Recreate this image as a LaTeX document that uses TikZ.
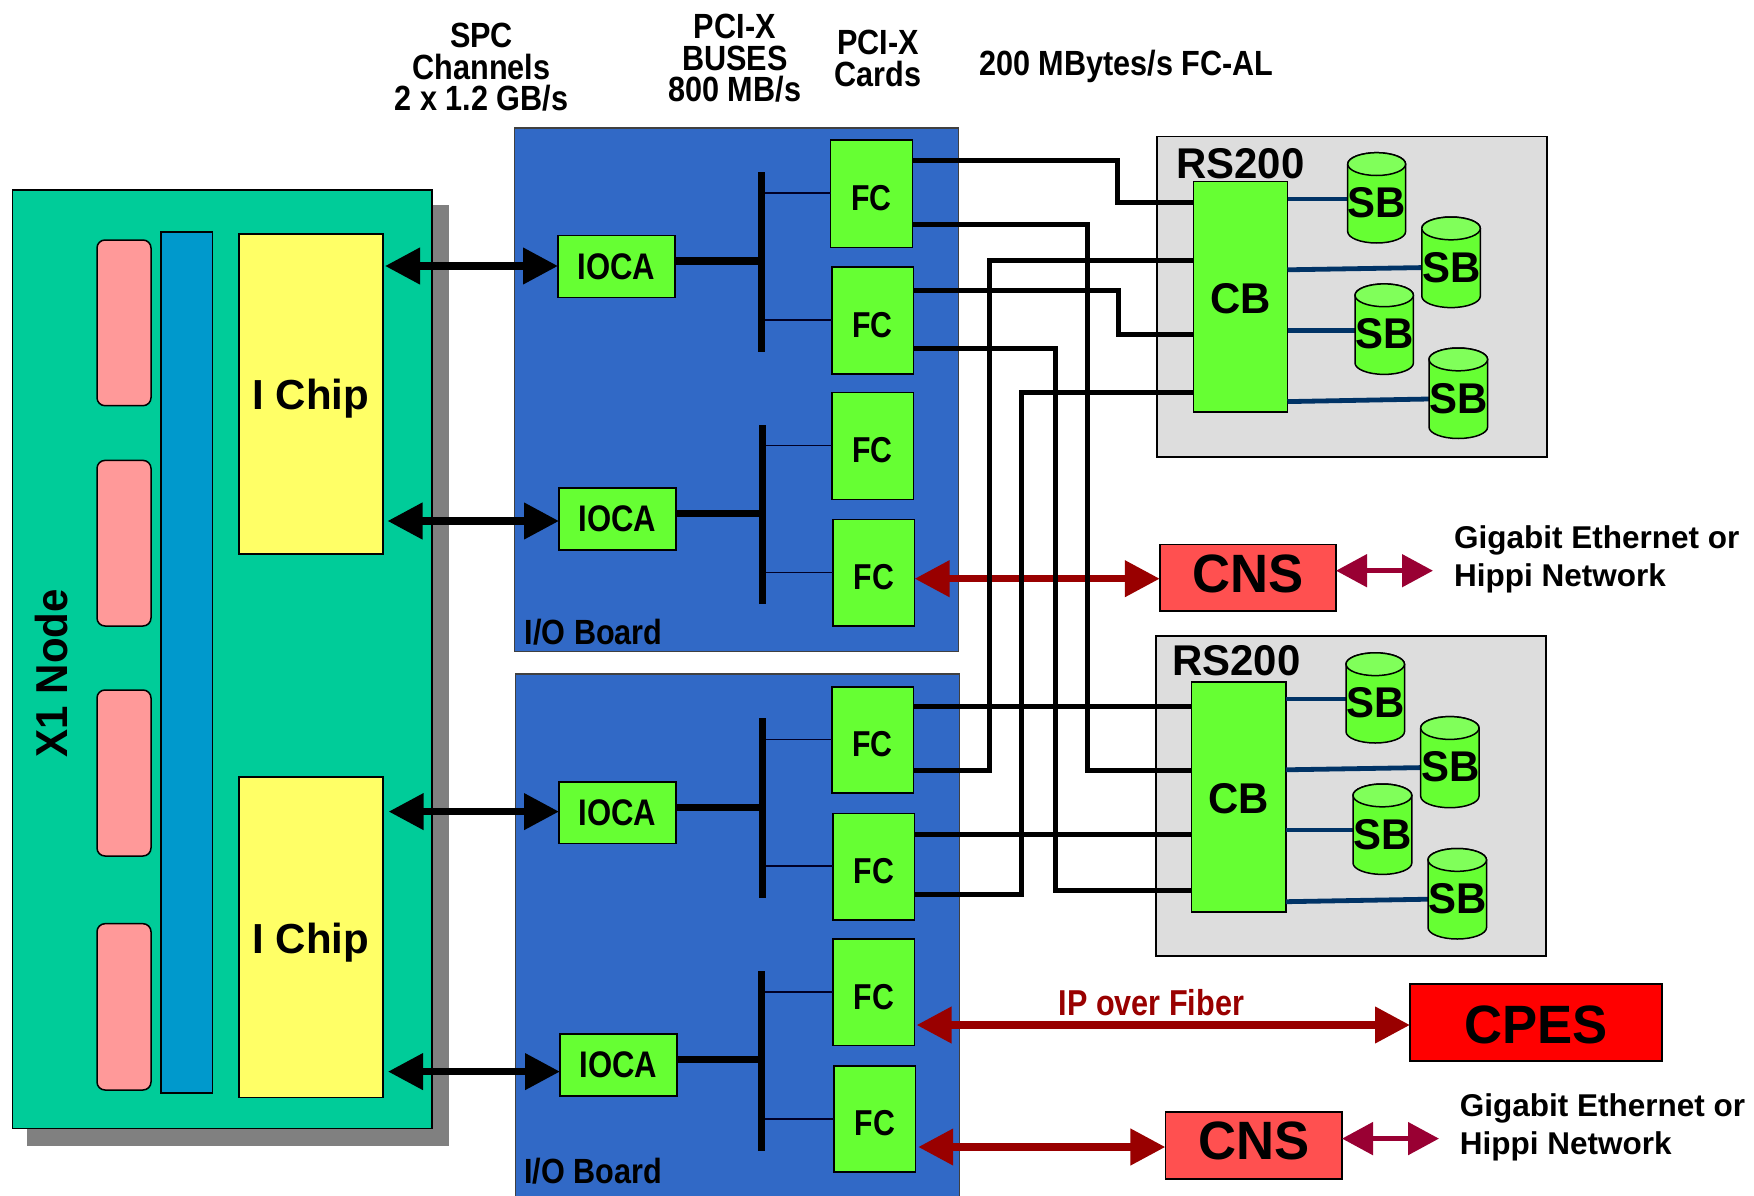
\documentclass[tikz,border=0pt]{standalone}
\usepackage{fontspec}
\usetikzlibrary{arrows.meta}
\setmainfont{Liberation Sans}
\newfontfamily\fCond[FakeStretch=0.875]{Liberation Sans}
\newfontfamily\fIoca[FakeStretch=0.84]{Liberation Sans}
\newfontfamily\fBig[FakeStretch=0.975]{Liberation Sans}
\newfontfamily\fWide[FakeStretch=0.94]{Liberation Sans}
\newfontfamily\fIp[FakeStretch=0.85]{Liberation Sans}
\definecolor{nodegreen}{HTML}{00CC99}
\definecolor{shadowgray}{HTML}{808080}
\definecolor{memopink}{HTML}{FF9999}
\definecolor{barblue}{HTML}{0099CC}
\definecolor{chipyellow}{HTML}{FFFF66}
\definecolor{boardblue}{HTML}{3169C6}
\definecolor{cardgreen}{HTML}{66FF33}
\definecolor{capgreen}{HTML}{80FF5A}
\definecolor{cnsred}{HTML}{FF5050}
\definecolor{rackgray}{HTML}{DDDDDD}
\definecolor{navy}{HTML}{003366}
\definecolor{linkred}{HTML}{990000}
\definecolor{netred}{HTML}{990033}
\tikzset{
  box/.style={rectangle,inner sep=0pt,outer sep=0pt,draw=black,line width=1.5pt},
  shadowbox/.style={rectangle,inner sep=0pt,outer sep=0pt,fill=shadowgray},
  x1box/.style={box,fill=nodegreen},
  pinkbox/.style={box,fill=memopink,rounded corners=8pt},
  barbox/.style={box,fill=barblue},
  chipbox/.style={box,fill=chipyellow},
  boardbox/.style={box,draw=black!75,fill=boardblue},
  iocabox/.style={box,fill=cardgreen,font=\fIoca\bfseries\fontsize{37}{37}\selectfont},
  fcbox/.style={box,fill=cardgreen,font=\fIoca\bfseries\fontsize{36}{36}\selectfont,text height=33.8pt,text depth=0pt},
  busbar/.style={rectangle,inner sep=0pt,outer sep=0pt,fill=black},
  rackbox/.style={box,fill=rackgray},
  cbbox/.style={box,fill=cardgreen,font=\fBig\bfseries\fontsize{43}{43}\selectfont,text height=33.4pt,text depth=0pt},
  cnsbox/.style={box,fill=cnsred,font=\fBig\bfseries\fontsize{54}{54}\selectfont,text depth=10pt,text height=38.6pt},
  cpesbox/.style={box,fill=red,font=\fBig\bfseries\fontsize{54}{54}\selectfont,text height=41.4pt,text depth=0pt},
  diskbody/.style={draw=black,line width=1.5pt,fill=cardgreen},
  diskcap/.style={draw=black,line width=1.5pt,fill=capgreen},
  disklabel/.style={inner sep=0pt,font=\fBig\bfseries\fontsize{43}{43}\selectfont},
  head/.style={inner sep=0pt,anchor=base,font=\fCond\bfseries\fontsize{35}{35}\selectfont},
  headleft/.style={head,anchor=base west},
  chiplabel/.style={inner sep=0pt,anchor=base,font=\bfseries\fontsize{42}{42}\selectfont},
  racklabel/.style={inner sep=0pt,anchor=base west,font=\fBig\bfseries\fontsize{43}{43}\selectfont},
  netlabel/.style={inner sep=0pt,anchor=base west,font=\bfseries\fontsize{31.5}{31.5}\selectfont},
  thinlink/.style={draw=black!85!blue,line width=1.6pt},
  ioclink/.style={draw=black,line width=7.6pt},
  fiber/.style={draw=black,line width=5pt,line join=miter},
  sblink/.style={draw=navy,line width=4.8pt},
  blackarrow/.style={draw=black,fill=black,line width=7.4pt,arrows={Triangle[length=35pt,width=35pt]-Triangle[length=35pt,width=35pt]}},
  redarrow/.style={draw=linkred,line width=7.4pt,arrows={Triangle[length=35pt,width=35pt,fill=linkred]-Triangle[length=35pt,width=35pt,fill=linkred]}},
  netarrow/.style={draw=netred,line width=5pt,arrows={Triangle[length=31pt,width=32pt,fill=netred]-Triangle[length=31pt,width=32pt,fill=netred]}},
}
\newcommand{\rectnode}[7]{\node[#1,at={({(#3+#5)/2},{(#4+#6)/2})},minimum width={(#5-#3)*1pt},minimum height={(#6-#4)*1pt}] (#2) {#7};}
\newcommand{\diskat}[5]{%
  \pgfmathsetmacro\dcx{(#2+#4)/2}%
  \pgfmathsetmacro\drx{(#4-#2)/2}%
  \pgfmathsetmacro\dkx{0.5523*\drx}%
  \pgfmathsetmacro\dkm{0.5523*11.4}%
  \pgfmathsetmacro\dup{#3+11.4}%
  \pgfmathsetmacro\dlo{#5-11.4}%
  \draw[diskbody] (#2,\dup) -- (#2,\dlo)
    .. controls (#2,\dlo+\dkm) and (\dcx-\dkx,#5) .. (\dcx,#5)
    .. controls (\dcx+\dkx,#5) and (#4,\dlo+\dkm) .. (#4,\dlo)
    -- (#4,\dup)
    .. controls (#4,\dup-\dkm) and (\dcx+\dkx,#3) .. (\dcx,#3)
    .. controls (\dcx-\dkx,#3) and (#2,\dup-\dkm) .. (#2,\dup) -- cycle;
  \draw[diskcap] (#2,\dup)
    .. controls (#2,\dup-\dkm) and (\dcx-\dkx,#3) .. (\dcx,#3)
    .. controls (\dcx+\dkx,#3) and (#4,\dup-\dkm) .. (#4,\dup)
    .. controls (#4,\dup+\dkm) and (\dcx+\dkx,#3+22.8) .. (\dcx,#3+22.8)
    .. controls (\dcx-\dkx,#3+22.8) and (#2,\dup+\dkm) .. (#2,\dup) -- cycle;
  \node[disklabel,at={({(#2+#4)/2+0.3},{(#3+#5)/2+5})}] (#1) {SB};}
\begin{document}
\begin{tikzpicture}[x=1pt,y=-1pt]
\useasboundingbox (0,0) rectangle (1754,1196);
% X1 node
\rectnode{shadowbox}{x1shadow}{27}{205}{449}{1145.7}{}
\rectnode{x1box}{x1}{12.6}{190}{432}{1128.6}{}
\rectnode{pinkbox}{mem1}{97}{240}{151}{405.7}{}
\rectnode{pinkbox}{mem2}{97}{460.4}{151}{626}{}
\rectnode{pinkbox}{mem3}{97}{690}{151}{856}{}
\rectnode{pinkbox}{mem4}{97}{923.7}{151}{1090}{}
\rectnode{barbox}{bar}{161}{232}{212.4}{1093}{}
\rectnode{chipbox}{chip1}{238.8}{233.8}{383}{553.8}{}
\rectnode{chipbox}{chip2}{238.8}{777}{383}{1097.4}{}
\node[chiplabel] (chip1t) at (311,409.5) {I Chip};
\node[chiplabel] (chip2t) at (311,953.8) {I Chip};
\node[inner sep=0pt,anchor=base,rotate=90,font=\fWide\bfseries\fontsize{44.7}{44.7}\selectfont] (x1t) at (67.7,673) {X1 Node};
% boards
\rectnode{boardbox}{board1}{514.4}{128}{958.6}{651.7}{}
\rectnode{boardbox}{board2}{515.5}{674}{959.7}{1200}{}
\node[headleft] (b1t) at (524.6,644) {I/O Board};
\node[headleft] (b2t) at (524,1183) {I/O Board};
% IOCA
\rectnode{iocabox}{ioca1}{558}{235.7}{675}{297.4}{IOCA}
\rectnode{iocabox}{ioca2}{559}{488}{676}{550}{IOCA}
\rectnode{iocabox}{ioca3}{559}{781.8}{676}{843.5}{IOCA}
\rectnode{iocabox}{ioca4}{560}{1034}{677}{1096}{IOCA}
% busses
\rectnode{busbar}{bus1}{757.5}{172}{764.5}{351.7}{}
\rectnode{busbar}{bus2}{758.8}{424.8}{765.8}{604}{}
\rectnode{busbar}{bus3}{758.8}{718.4}{765.8}{898}{}
\rectnode{busbar}{bus4}{757.5}{970.8}{764.5}{1150.6}{}
% FC
\rectnode{fcbox}{fc1}{830.6}{140}{912.3}{247.4}{FC}
\rectnode{fcbox}{fc2}{831.8}{267}{913.4}{373.8}{FC}
\rectnode{fcbox}{fc3}{831.8}{392.7}{913.4}{499.4}{FC}
\rectnode{fcbox}{fc4}{833}{519.4}{914.6}{626.2}{FC}
\rectnode{fcbox}{fc5}{831.8}{686.8}{913.4}{793}{FC}
\rectnode{fcbox}{fc6}{833}{813.4}{914.6}{920}{FC}
\rectnode{fcbox}{fc7}{833}{939}{914.6}{1045.7}{FC}
\rectnode{fcbox}{fc8}{834}{1065.9}{915.7}{1172}{FC}
% bus links
\draw[ioclink] (ioca1.east |- 0,261) -- (bus1.west |- 0,261);
\draw[ioclink] (ioca2.east |- 0,513.6) -- (bus2.west |- 0,513.6);
\draw[ioclink] (ioca3.east |- 0,807.4) -- (bus3.west |- 0,807.4);
\draw[ioclink] (ioca4.east |- 0,1059.5) -- (bus4.west |- 0,1059.5);
\draw[thinlink] (bus1.east |- 0,193) -- (fc1.west |- 0,193);
\draw[thinlink] (bus1.east |- 0,320) -- (fc2.west |- 0,320);
\draw[thinlink] (bus2.east |- 0,445.5) -- (fc3.west |- 0,445.5);
\draw[thinlink] (bus2.east |- 0,572.5) -- (fc4.west |- 0,572.5);
\draw[thinlink] (bus3.east |- 0,739.6) -- (fc5.west |- 0,739.6);
\draw[thinlink] (bus3.east |- 0,866) -- (fc6.west |- 0,866);
\draw[thinlink] (bus4.east |- 0,992) -- (fc7.west |- 0,992);
\draw[thinlink] (bus4.east |- 0,1119) -- (fc8.west |- 0,1119);
% channel arrows
\draw[blackarrow,shorten <=2pt] (chip1.east |- 0,266) -- (ioca1.west |- 0,266);
\draw[blackarrow,shorten <=4.5pt] (chip1.east |- 0,521) -- (ioca2.west |- 0,521);
\draw[blackarrow,shorten <=5.6pt] (chip2.east |- 0,811.6) -- (ioca3.west |- 0,811.6);
\draw[blackarrow,shorten <=5pt] (chip2.east |- 0,1071.6) -- (ioca4.west |- 0,1071.6);
% racks
\rectnode{rackbox}{rack1}{1157}{136.5}{1547}{457}{}
\rectnode{rackbox}{rack2}{1156}{636}{1546}{956}{}
\node[racklabel] (rack1t) at (1176,178.5) {RS200};
\node[racklabel] (rack2t) at (1172,675.8) {RS200};
\rectnode{cbbox}{cb1}{1193.3}{181.6}{1287.5}{412}{CB}
\rectnode{cbbox}{cb2}{1191.6}{681.8}{1285.8}{912}{CB}
% SB links
\draw[sblink] (cb1.east |- 0,199) -- (1376,199);
\draw[sblink] (cb1.east |- 0,269.8) -- (1440,267.3);
\draw[sblink] (cb1.east |- 0,330.4) -- (1384,330.4);
\draw[sblink] (cb1.east |- 0,401.6) -- (1440,398.8);
\draw[sblink] (cb2.east |- 0,698.9) -- (1376,698.9);
\draw[sblink] (cb2.east |- 0,769.8) -- (1440,767.3);
\draw[sblink] (cb2.east |- 0,830) -- (1384,830);
\draw[sblink] (cb2.east |- 0,901.7) -- (1440,899);
\diskat{sba}{1347.7}{152.7}{1405.6}{243}
\diskat{sbb}{1421.8}{217}{1480.3}{307.6}
\diskat{sbc}{1355}{283.9}{1413.4}{374.4}
\diskat{sbd}{1429}{348}{1487.6}{438.5}
\diskat{sbe}{1346}{652.8}{1404.5}{743}
\diskat{sbf}{1420.7}{716.6}{1479}{807.7}
\diskat{sbg}{1353}{784}{1411.8}{874.4}
\diskat{sbh}{1428}{848.5}{1486.5}{939}
% outer boxes
\rectnode{cnsbox}{cns1}{1159.8}{544.6}{1336}{611}{CNS}
\rectnode{cnsbox}{cns2}{1165.4}{1112}{1342}{1179}{CNS}
\rectnode{cpesbox}{cpes}{1410}{984}{1662}{1061}{CPES}
\coordinate (net1) at (1433,570.7);
\coordinate (net2) at (1439,1138.6);
% red arrows
\draw[redarrow] (fc4.east |- 0,578.7) -- (cns1.west |- 0,578.7);
\draw[redarrow,shorten <=2pt] (fc7.east |- 0,1025) -- (cpes.west |- 0,1025);
\draw[redarrow,shorten <=2.5pt] (fc8.east |- 0,1147) -- (cns2.west |- 0,1147);
\draw[netarrow] (cns1.east |- net1) -- (net1);
\draw[netarrow] (cns2.east |- net2) -- (net2);
% fibers
\draw[fiber] (fc1.east |- 0,161) -- (1117.5,161) -- (1117.5,202.3) -- (cb1.west |- 0,202.3);
\draw[fiber] (fc1.east |- 0,224.7) -- (1087.4,224.7) -- (1087.4,770.5) -- (cb2.west |- 0,770.5);
\draw[fiber] (cb1.west |- 0,260.5) -- (989.8,260.5) -- (989.8,770.5) -- (fc5.east |- 0,770.5);
\draw[fiber] (fc2.east |- 0,290.4) -- (1118,290.4) -- (1118,334.5) -- (cb1.west |- 0,334.5);
\draw[fiber] (fc2.east |- 0,348.3) -- (1055.6,348.3) -- (1055.6,890.4) -- (cb2.west |- 0,890.4);
\draw[fiber] (cb1.west |- 0,392.7) -- (1021.6,392.7) -- (1021.6,894.3) -- (fc6.east |- 0,894.3);
\draw[fiber] (fc5.east |- 0,706.7) -- (cb2.west |- 0,706.7);
\draw[fiber] (fc6.east |- 0,834.3) -- (cb2.west |- 0,834.3);
% texts
\node[head] (h1a) at (481.6,48) {SPC};
\node[head] (h1b) at (481.6,80) {Channels};
\node[head] (h1c) at (481.6,111) {2 x 1.2 GB/s};
\node[head] (h2a) at (734.8,38.5) {PCI-X};
\node[head] (h2b) at (734.8,71) {BUSES};
\node[head] (h2c) at (734.8,102) {800 MB/s};
\node[head] (h3a) at (878,54.3) {PCI-X};
\node[head] (h3b) at (878,87) {Cards};
\node[headleft] (h4) at (979,76) {200 MBytes/s FC-AL};
\node[inner sep=0pt,anchor=base west,text=linkred,font=\fIp\bfseries\fontsize{36}{36}\selectfont] (ip) at (1058.4,1015) {IP over Fiber};
\node[netlabel] (g1) at (1454,548.7) {Gigabit Ethernet or};
\node[netlabel] (g2) at (1454,586.9) {Hippi Network};
\node[netlabel] (g3) at (1459.7,1116) {Gigabit Ethernet or};
\node[netlabel] (g4) at (1459.7,1154.5) {Hippi Network};
\end{tikzpicture}
\end{document}
